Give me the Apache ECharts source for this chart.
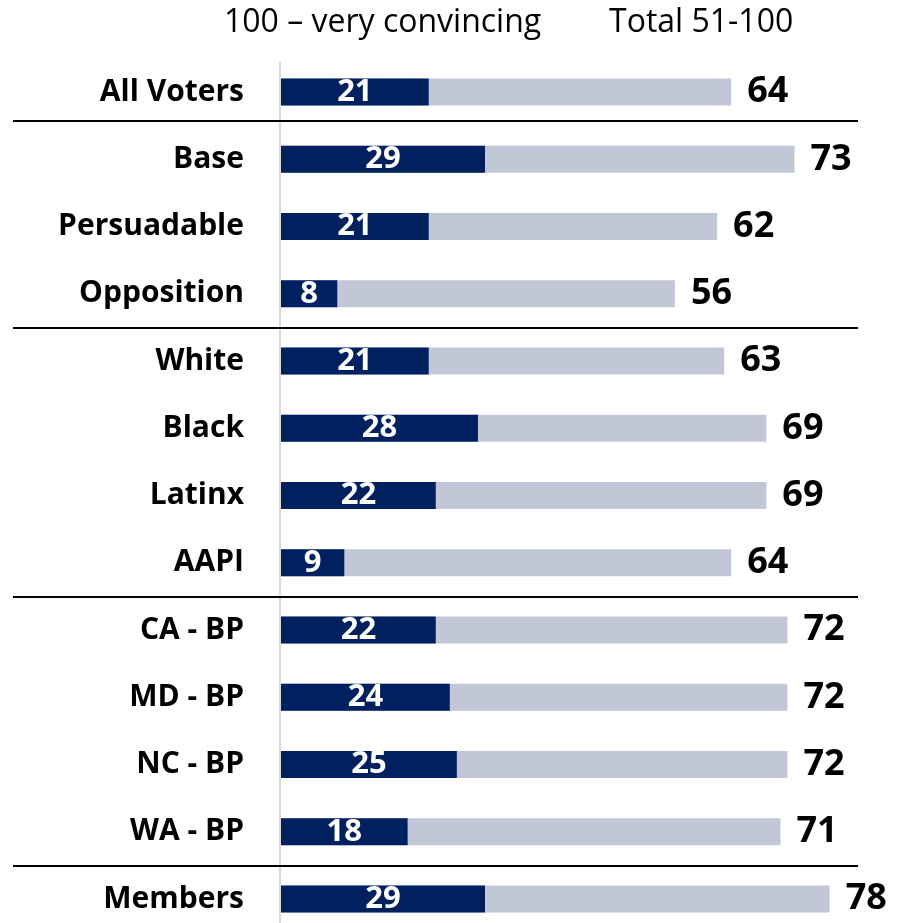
<!DOCTYPE html>
<html>
<head>
<meta charset="utf-8">
<script src="https://cdn.jsdelivr.net/npm/echarts@6/dist/echarts.min.js"></script>
<style>
    html, body { margin: 0; padding: 0; background: #fff; }
    #main { width: 902px; height: 923px; }
</style>
</head>
<body>
<div id="main"></div>
<script>
// 分类与数值
var categories = ['All Voters', 'Base', 'Persuadable', 'Opposition', 'White', 'Black', 'Latinx', 'AAPI',
    'CA - BP', 'MD - BP', 'NC - BP', 'WA - BP', 'Members'];
var veryConvincing = [21, 29, 21, 8, 21, 28, 22, 9, 22, 24, 25, 18, 29];
var total51to100 = [64, 73, 62, 56, 63, 69, 69, 64, 72, 72, 72, 71, 78];
var headers = ['100 – very convincing', 'Total 51-100'];
// 分组线画在这些分类之后
var groupEnds = [0, 3, 7, 11];

var FONT = '"Open Sans"';
var chart = echarts.init(document.getElementById('main'));

var option = {
    animation: false,
    // boundaryGap 关掉，第一行和最后一行的中心落在 top / bottom 上
    grid: { left: 281, right: 2, top: 92, bottom: 24 },
    xAxis: {
        type: 'value', min: 0, max: 88,
        show: false
    },
    yAxis: {
        type: 'category',
        data: categories,
        inverse: true,
        boundaryGap: false,
        axisLine: { show: false },
        axisTick: { show: false },
        axisLabel: {
            margin: 37,
            color: '#000',
            fontFamily: FONT,
            fontWeight: 'bold',
            fontSize: 30
        }
    },
    series: [
        {
            name: headers[1],
            type: 'bar',
            data: total51to100,
            barWidth: 27,
            itemStyle: { color: '#c1c7d6' },
            label: {
                show: true, position: 'right', distance: 16,
                color: '#000', fontFamily: FONT, fontWeight: 'bold', fontSize: 36
            },
            z: 2
        },
        {
            name: headers[0],
            type: 'bar',
            data: veryConvincing,
            barWidth: 27,
            barGap: '-100%',
            itemStyle: { color: '#002060' },
            label: {
                show: true, position: 'inside',
                color: '#fff', fontFamily: FONT, fontWeight: 'bold', fontSize: 31
            },
            z: 3
        }
    ]
};
chart.setOption(option);

// 表头、左侧竖线和分组横线
var x0 = chart.convertToPixel({ xAxisIndex: 0 }, 0);
var graphics = [
    { type: 'text', x: 224, y: 23, style: { text: headers[0], fontFamily: FONT, fontSize: 32, fill: '#000', verticalAlign: 'middle' } },
    { type: 'text', x: 609, y: 23, style: { text: headers[1], fontFamily: FONT, fontSize: 32, fill: '#000', verticalAlign: 'middle' } },
    { type: 'line', shape: { x1: x0 - 1, y1: 62, x2: x0 - 1, y2: 923 }, style: { stroke: '#d9d9d9', lineWidth: 2 }, z: 1 }
];
for (var i = 0; i < groupEnds.length; i++) {
    var y1 = chart.convertToPixel({ yAxisIndex: 0 }, categories[groupEnds[i]]);
    var y2 = chart.convertToPixel({ yAxisIndex: 0 }, categories[groupEnds[i] + 1]);
    // 第一条线在原图里偏上一点
    var y = Math.round((y1 + y2) / 2) + (i === 0 ? -5 : 1);
    graphics.push({
        type: 'line',
        shape: { x1: 13, y1: y, x2: 858, y2: y },
        style: { stroke: '#000', lineWidth: 2 },
        z: 10
    });
}
chart.setOption({ graphic: graphics });
</script>
</body>
</html>
